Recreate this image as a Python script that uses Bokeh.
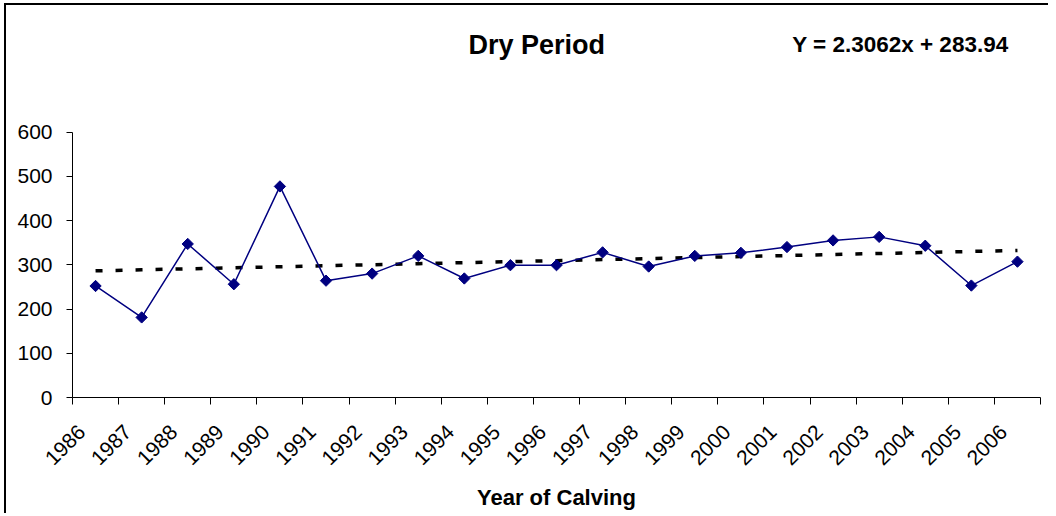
import math
from bokeh.plotting import figure
from bokeh.layouts import column
from bokeh.models import FixedTicker, Range1d
from bokeh.core.properties import value
from bokeh.embed import file_html
from bokeh.resources import INLINE

# ---- data ----
years = ["1986", "1987", "1988", "1989", "1990", "1991", "1992", "1993", "1994",
         "1995", "1996", "1997", "1998", "1999", "2000", "2001", "2002", "2003",
         "2004", "2005", "2006"]
dry_period = [252, 181, 347, 256, 477, 264, 280, 320, 269, 299, 299, 328, 296,
              320, 327, 340, 355, 363, 343, 253, 307]
trend_slope = 2.3062
trend_intercept = 283.94
y_ticks = [0, 100, 200, 300, 400, 500, 600]
title_text = "Dry Period"
x_label = "Year of Calving"

# ---- derived ----
n = len(years)
pos = [i + 0.5 for i in range(n)]
trend = [trend_slope * (i + 1) + trend_intercept for i in range(n)]
eq_text = f"Y = {trend_slope}x + {trend_intercept}"

FONT = "Liberation Sans"
Y_TOP = 852          # extra headroom above 600 holds the title text
LABEL_SHIFT = -0.30  # horizontal nudge of rotated year labels

p = figure(width=1042, height=508,
           x_range=Range1d(0, n), y_range=Range1d(0, Y_TOP),
           output_backend="svg", toolbar_location=None,
           min_border_left=66, min_border_right=8,
           min_border_top=15, min_border_bottom=114)
p.title.visible = False
p.background_fill_color = "white"
p.border_fill_color = "white"
p.outline_line_color = None
p.xgrid.visible = False
p.ygrid.visible = False

# trend line
p.line(pos, trend, line_color="black", line_width=3.5, line_dash="7 13")
# series
p.line(pos, dry_period, line_color="#000080", line_width=1.5)
p.scatter(pos, dry_period, marker="square", size=8, angle=math.pi / 4,
          fill_color="#000080", line_color="#000080")

# x axis
label_pos = [x + LABEL_SHIFT for x in pos]
xa = p.xaxis[0]
xa.ticker = FixedTicker(ticks=label_pos, minor_ticks=list(range(n + 1)))
xa.major_label_overrides = {label_pos[i]: years[i] for i in range(n)}
xa.major_tick_out = 0
xa.major_tick_in = 0
xa.minor_tick_out = 7
xa.minor_tick_in = 0
xa.minor_tick_line_color = "black"
xa.axis_line_color = "black"
xa.major_label_orientation = math.pi / 4
xa.major_label_standoff = 24
xa.major_label_text_font = FONT
xa.major_label_text_font_size = "21px"
xa.major_label_text_color = "black"
xa.axis_label = x_label
xa.axis_label_text_font = FONT
xa.axis_label_text_font_size = "22px"
xa.axis_label_text_font_style = "bold"
xa.axis_label_text_color = "black"
xa.axis_label_standoff = 11

# y axis
ya = p.yaxis[0]
ya.ticker = FixedTicker(ticks=y_ticks)
ya.bounds = (y_ticks[0], y_ticks[-1])
ya.major_tick_out = 6
ya.major_tick_in = 0
ya.minor_tick_out = 0
ya.minor_tick_in = 0
ya.axis_line_color = "black"
ya.major_tick_line_color = "black"
ya.major_label_standoff = 14
ya.major_label_text_font = FONT
ya.major_label_text_font_size = "21px"
ya.major_label_text_color = "black"

# title and trend equation
p.text(x=[10.07], y=[796], text=[title_text], text_align="center",
       text_baseline="alphabetic", text_font=value(FONT),
       text_font_size="27px", text_font_style="bold", text_color="black")
p.text(x=[17.96], y=[798], text=[eq_text], text_align="center",
       text_baseline="alphabetic", text_font=value(FONT),
       text_font_size="22.5px", text_font_style="bold", text_color="black")

layout = column(p, styles={"border-left": "2px solid black",
                           "border-top": "2px solid black",
                           "margin-left": "4px", "margin-top": "3px"})

open("out.html", "w").write(file_html(layout, INLINE))
